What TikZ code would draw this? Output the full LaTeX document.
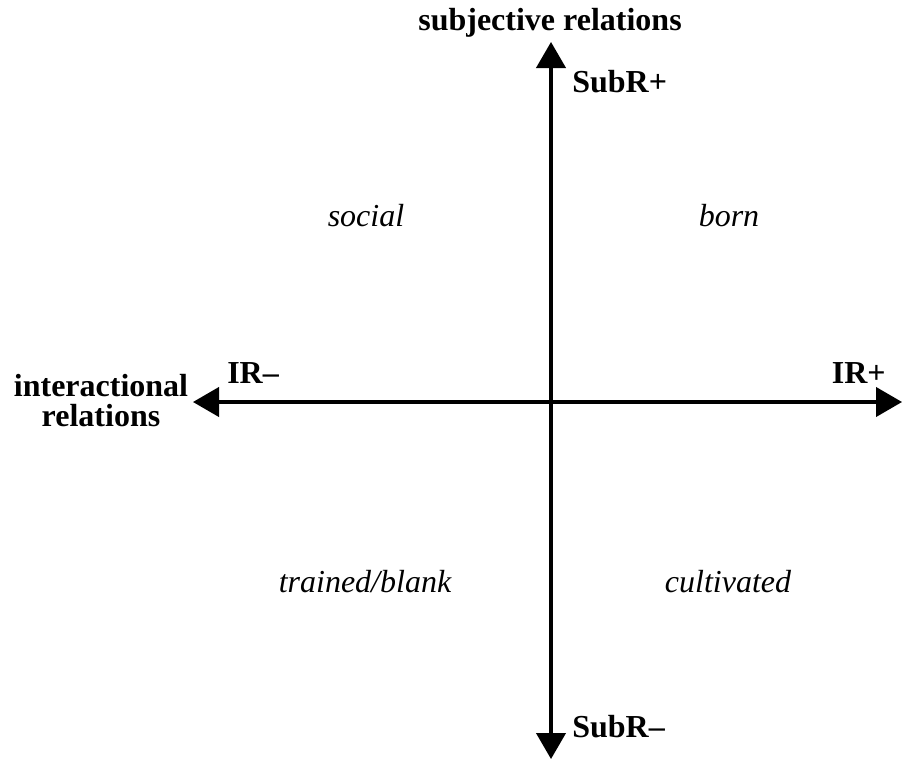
\documentclass[tikz,border=0pt]{standalone}
\usepackage{fontspec}
\setmainfont{Liberation Serif}
\usetikzlibrary{arrows.meta}

\begin{document}
\begin{tikzpicture}[x=0.75pt,y=-0.75pt]
	\tikzset{axis/.style={line width=2.3pt,{Triangle[length=19.5pt,width=22pt]}-{Triangle[length=19.5pt,width=22pt]}},
		pole/.style={font=\fontsize{24}{22.5}\selectfont\bfseries,inner sep=0pt,anchor=base},
		kind/.style={font=\fontsize{24}{22.5}\selectfont\itshape,inner sep=0pt,anchor=base}}
	\useasboundingbox (0,0) rectangle (903,760);
	\coordinate (Top) at (551,42);
	\coordinate (Bot) at (551,759);
	\coordinate (Lft) at (193,402);
	\coordinate (Rgt) at (902,402);
	\draw[axis] (Bot)--(Top);
	\draw[axis] (Lft)--(Rgt);
	% axis names and poles
	\node[pole] (subj) at (550,30) {subjective relations};
	\node[pole,align=center,anchor=center] (inter) at (101,401) {interactional\\relations};
	\node[pole,anchor=base west] (subp) at (572,92) {SubR+};
	\node[pole,anchor=base west] (subm) at (572,737) {SubR--};
	\node[pole,anchor=base west] (irm) at (227,383) {IR--};
	\node[pole,anchor=base east] (irp) at (886,383) {IR+};
	% quadrants
	\node[kind] (social) at (366,226) {social};
	\node[kind] (born) at (729,226) {born};
	\node[kind] (trained) at (365,592) {trained/blank};
	\node[kind] (cult) at (728,592) {cultivated};
\end{tikzpicture}
\end{document}
